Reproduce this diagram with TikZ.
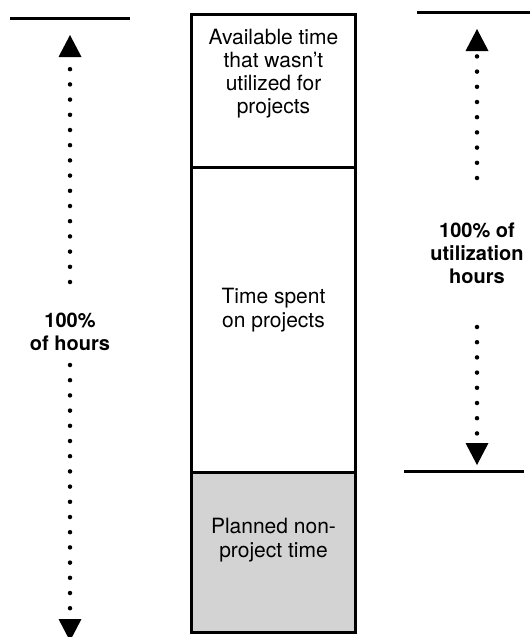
\documentclass[tikz,border=0pt]{standalone}
\usepackage{fontspec}
\setmainfont{TeX Gyre Heros}
\usetikzlibrary{arrows.meta}
\definecolor{nonproj}{RGB}{211,211,211}

\begin{document}
\begin{tikzpicture}[x=1pt, y=-1pt,
    seg/.style={draw, rectangle, line width=3pt, outer sep=0pt, minimum width=164pt},
    txt/.style={align=center, font=\fontsize{21}{24}\selectfont},
    hrs/.style={align=center, font=\fontsize{20}{23}\selectfont\bfseries},
    dots/.style={line width=4.5pt, line cap=round, dash pattern=on 0pt off 15.2pt,
        -{Triangle[width=23pt, length=22pt, line width=0pt]}},
    bar/.style={line width=3pt}]
    \useasboundingbox (0,0) rectangle (530,637);

    \node[seg, minimum height=152.5pt] (avail) at (273.5, 90.75) {};
    \node[seg, minimum height=305pt] (spent) at (273.5, 319.5) {};
    \node[seg, fill=nonproj, minimum height=160.5pt] (planned) at (273.5, 552.25) {};

    \node[txt, font=\fontsize{21}{23}\selectfont] (availtxt) at (273.5, 74) {Available time\\that wasn't\\utilized for\\projects};
    \node[txt] (spenttxt) at (273.5, 310) {Time spent\\on projects};
    \node[txt] (plannedtxt) at (273.5, 540) {Planned non-\\project time};

    \coordinate (lbarw) at (10, 18);
    \coordinate (lbare) at (130, 18);
    \coordinate (rtopw) at (417, 12);
    \coordinate (rtope) at (530, 12);
    \coordinate (rbotw) at (404, 471);
    \coordinate (rbote) at (524, 471);
    \draw[bar] (lbarw) -- (lbare);
    \draw[bar] (rtopw) -- (rtope);
    \draw[bar] (rbotw) -- (rbote);

    \node[hrs] (allhrs) at (70, 332) {100\%\\of hours};
    \coordinate (lhigh) at (70, 282);
    \coordinate (ltip) at (70, 35);
    \coordinate (llow) at (70, 365);
    \coordinate (lend) at (70, 641);
    \draw[dots] (lhigh) -- (ltip);
    \draw[dots] (llow) -- (lend);

    \node[hrs] (utilhrs) at (477, 253.5) {100\% of\\utilization\\hours};
    \coordinate (rhigh) at (477, 178);
    \coordinate (rtip) at (477, 29);
    \coordinate (rlow) at (477, 327);
    \coordinate (rend) at (477, 465);
    \draw[dots] (rhigh) -- (rtip);
    \draw[dots] (rlow) -- (rend);
\end{tikzpicture}
\end{document}
